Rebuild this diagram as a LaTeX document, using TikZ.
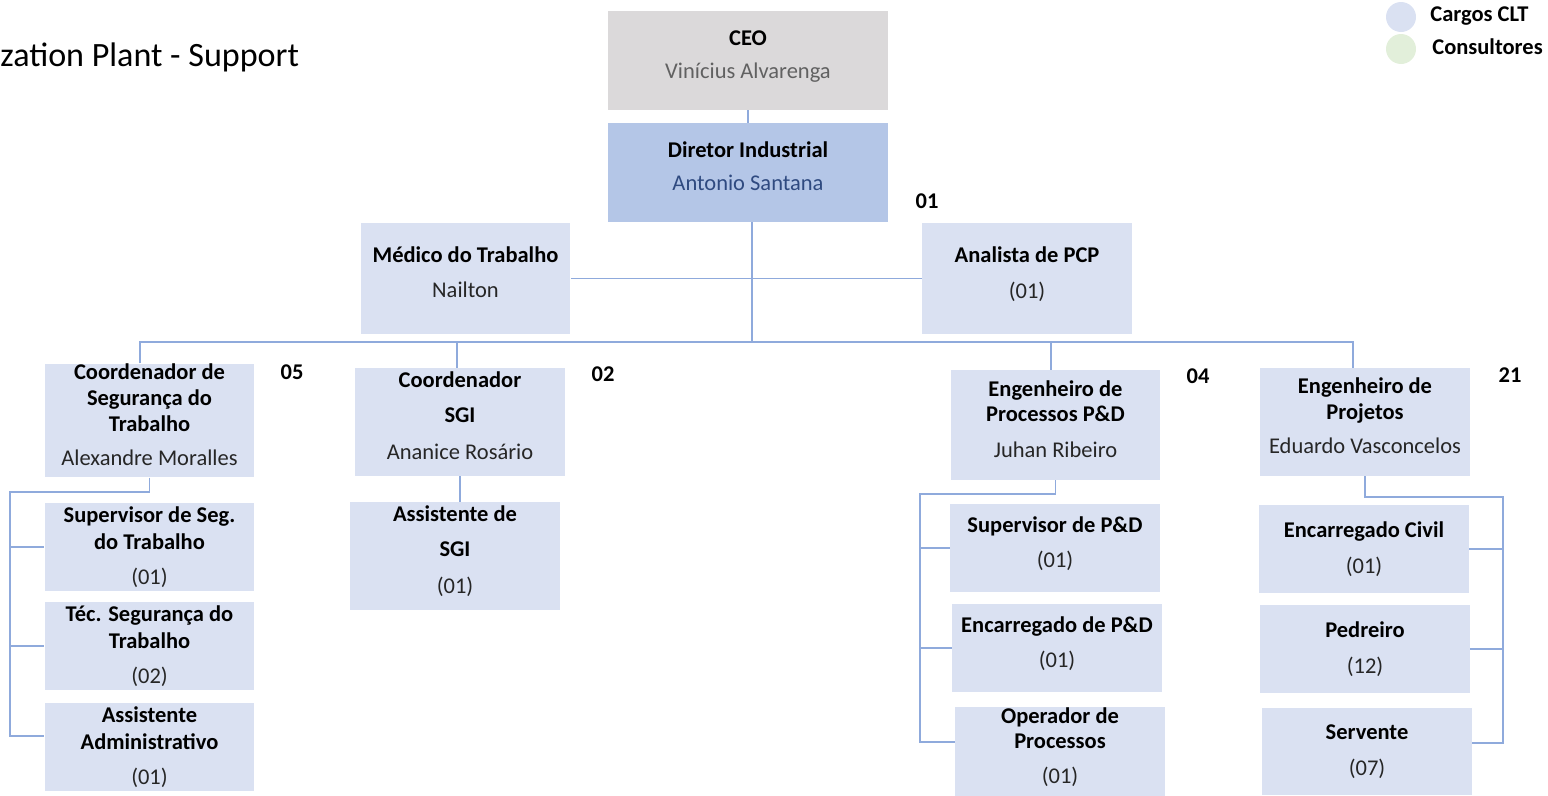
\documentclass[tikz,border=0pt]{standalone}
\usepackage{fontspec}
\setmainfont{Carlito}
\usetikzlibrary{positioning}

\definecolor{boxblue}{HTML}{DAE1F2}
\definecolor{dirblue}{HTML}{B4C6E7}
\definecolor{ceogray}{HTML}{DBD9DA}
\definecolor{legendgreen}{HTML}{E2EFDA}
\definecolor{linkblue}{HTML}{8FAADC}
\definecolor{namegray}{HTML}{262626}

% last (regular) line of a box, with a deeper bottom so the block sits a bit high
\newcommand{\pessoa}[1]{{\mdseries\color{namegray}#1\rule[-7pt]{0pt}{0pt}}}
% same, without the extra depth
\newcommand{\qtd}[1]{{\mdseries\color{namegray}#1}}

\tikzset{
    box/.style={fill=boxblue, align=center, inner sep=0pt,
        minimum width=4.2cm, minimum height=1.76cm,
        font=\fontsize{12.8}{14.7}\selectfont\bfseries},
    count/.style={inner sep=0pt, font=\fontsize{12.8}{14.7}\selectfont\bfseries},
    conn/.style={draw=linkblue, line width=0.8pt}
}

\begin{document}
\begin{tikzpicture}[x=0.02cm, y=-0.02cm]
    \useasboundingbox (0,0) rectangle (1548,795);

    \node[anchor=west, inner sep=0pt, font=\fontsize{19.4}{22}\selectfont] (title) at (0,57) {zation Plant - Support};

    % legend
    \node[circle, fill=boxblue, minimum size=0.6cm, inner sep=0pt] (clt) at (1401,17) {};
    \node[circle, fill=legendgreen, minimum size=0.6cm, inner sep=0pt] (cons) at (1401,49) {};
    \node[count, anchor=west] (cltlbl) at (1430,16) {Cargos CLT};
    \node[count, anchor=west] (conslbl) at (1432,47) {Consultores};

    % top
    \node[box, fill=ceogray, minimum width=5.6cm, minimum height=1.98cm] (ceo) at (748,60.5)
        {CEO\\[4pt]{\mdseries\color{black!62}Vinícius Alvarenga\rule[-7pt]{0pt}{0pt}}};
    \node[box, fill=dirblue, minimum width=5.6cm, minimum height=1.98cm] (dir) at (748,172.5)
        {Diretor Industrial\\[4pt]{\mdseries\color[HTML]{2F4A80}Antonio Santana\rule[-7pt]{0pt}{0pt}}};
    \node[count] (n01) at (927,201) {01};

    \node[box, minimum height=2.22cm] (medico) at (465.5,278.5)
        {Médico do Trabalho\\[5.5pt]\pessoa{Nailton}};
    \node[box, minimum height=2.22cm] (analista) at (1027,278.5)
        {Analista de PCP\\[6pt]\pessoa{(01)}};

    % coordinators
    \node[box, minimum height=2.22cm] (coordseg) at (149.5,420.5)
        {Coordenador de\\Segurança do\\Trabalho\\[4.6pt]\pessoa{Alexandre Moralles}};
    \node[count] (n05) at (292,372) {05};
    \node[box, minimum height=2.16cm] (coordsgi) at (460,422)
        {Coordenador\\[5pt]SGI\\[6.5pt]\pessoa{Ananice Rosário}};
    \node[count] (n02) at (603,374) {02};
    \node[box, minimum height=2.2cm] (engproc) at (1055.5,425)
        {Engenheiro de\\Processos P\&D\\[5.5pt]\pessoa{Juhan Ribeiro}};
    \node[count] (n04) at (1198,376) {04};
    \node[box, minimum height=2.16cm] (engproj) at (1365,422)
        {Engenheiro de\\Projetos\\[4.6pt]\pessoa{Eduardo Vasconcelos}};
    \node[count] (n21) at (1510,375) {21};

    % staff under coordinators
    \node[box] (supseg) at (149.5,547)
        {Supervisor de Seg.\\[1pt]do Trabalho\\[5pt]\qtd{(01)}};
    \node[box] (tecseg) at (149.5,646)
        {Téc. Segurança do\\[1pt]Trabalho\\[5pt]\qtd{(02)}};
    \node[box] (assadm) at (149.5,747)
        {Assistente\\[1pt]Administrativo\\[5pt]\qtd{(01)}};

    \node[box, minimum height=2.16cm] (asssgi) at (455,556)
        {Assistente de\\[5pt]SGI\\[6.5pt]\pessoa{(01)}};

    \node[box] (suppd) at (1055,548)
        {Supervisor de P\&D\\[5.5pt]\pessoa{(01)}};
    \node[box] (encpd) at (1057,648)
        {Encarregado de P\&D\\[5.5pt]\pessoa{(01)}};
    \node[box, minimum height=1.74cm] (operador) at (1060,751.5)
        {Operador de\\Processos\\[5pt]\pessoa{(01)}};

    \node[box] (enccivil) at (1364,549)
        {Encarregado Civil\\[5.5pt]\qtd{(01)}};
    \node[box] (pedreiro) at (1365,649)
        {Pedreiro\\[5.5pt]\qtd{(12)}};
    \node[box, minimum height=1.74cm] (servente) at (1367,751.5)
        {Servente\\[5.5pt]\qtd{(07)}};

    % connectors
    \coordinate (bus) at (752,342);
    \coordinate (busL) at (140,342);
    \coordinate (busR) at (1353,342);
    \coordinate (dropsgi) at (457,342);
    \coordinate (dropproc) at (1051,342);
    \coordinate (railseg) at (10,492);
    \coordinate (railsegend) at (10,736);
    \coordinate (railpd) at (920,494);
    \coordinate (railpdend) at (920,742);
    \coordinate (railcivil) at (1503,497);
    \coordinate (railcivilend) at (1503,743);

    \draw[conn] (ceo) -- (dir);
    \draw[conn] (dir.south -| bus) -- (bus);
    \draw[conn] (medico.east) -- (analista.west);
    \draw[conn] (busL |- coordseg.north) -- (busL) -- (busR) -- (busR |- engproj.north);
    \draw[conn] (dropsgi) -- (dropsgi |- coordsgi.north);
    \draw[conn] (dropproc) -- (dropproc |- engproc.north);

    \draw[conn] (coordseg.south) |- (railseg) -- (railsegend) -- (railsegend -| assadm.west);
    \draw[conn] (railseg |- supseg.west) -- (supseg.west);
    \draw[conn] (railseg |- tecseg.west) -- (tecseg.west);

    \draw[conn] (coordsgi.south) -- (coordsgi.south |- asssgi.north);

    \draw[conn] (engproc.south) |- (railpd) -- (railpdend) -- (railpdend -| operador.west);
    \draw[conn] (railpd |- suppd.west) -- (suppd.west);
    \draw[conn] (railpd |- encpd.west) -- (encpd.west);

    \draw[conn] (engproj.south) |- (railcivil) -- (railcivilend) -- (railcivilend -| servente.east);
    \draw[conn] (railcivil |- enccivil.east) -- (enccivil.east);
    \draw[conn] (railcivil |- pedreiro.east) -- (pedreiro.east);
\end{tikzpicture}
\end{document}
